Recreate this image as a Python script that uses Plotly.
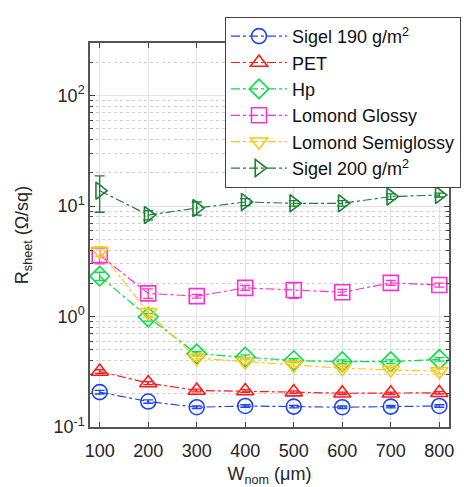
import plotly.graph_objects as go

w_nom = [100, 200, 300, 400, 500, 600, 700, 800]

names = ["Sigel 190 g/m<sup>2</sup>", "PET", "Hp", "Lomond Glossy",
         "Lomond Semiglossy", "Sigel 200 g/m<sup>2</sup>"]

sigel190 = [0.207, 0.170, 0.151, 0.155, 0.153, 0.151, 0.153, 0.155]
sigel190_err = [0.008, 0.006, 0.004, 0.004, 0.004, 0.004, 0.004, 0.004]
pet = [0.318, 0.250, 0.214, 0.212, 0.207, 0.202, 0.202, 0.204]
pet_err = [0.012, 0.008, 0.006, 0.006, 0.005, 0.005, 0.005, 0.005]
hp = [2.32, 0.99, 0.46, 0.43, 0.40, 0.39, 0.39, 0.41]
hp_err = [0.2, 0.08, 0.02, 0.02, 0.015, 0.015, 0.015, 0.015]
lomond_glossy = [3.6, 1.62, 1.53, 1.82, 1.74, 1.66, 2.02, 1.93]
lomond_glossy_err = [0.6, 0.16, 0.06, 0.09, 0.28, 0.1, 0.1, 0.08]
lomond_semi = [3.9, 1.09, 0.42, 0.39, 0.365, 0.34, 0.33, 0.32]
lomond_semi_err = [0.4, 0.1, 0.02, 0.02, 0.015, 0.015, 0.015, 0.015]
sigel200 = [13.8, 8.3, 9.6, 10.9, 10.6, 10.6, 12.2, 12.6]
sigel200_err = [5.0, 0.8, 1.3, 0.8, 0.6, 0.6, 0.7, 0.5]

series = [sigel190, pet, hp, lomond_glossy, lomond_semi, sigel200]
errors = [sigel190_err, pet_err, hp_err, lomond_glossy_err, lomond_semi_err, sigel200_err]
colors = ["#1f45ee", "#ff1a1a", "#00e040", "#ff33cc", "#ffc61a", "#1a8033"]
symbols = ["circle-open", "triangle-up-open", "diamond-open", "square-open",
           "triangle-down-open", "triangle-right-open"]

y_tickvals = [0.1, 1, 10, 100]
y_ticktext = ["10<sup>-1</sup>", "10<sup>0</sup>", "10<sup>1</sup>", "10<sup>2</sup>"]
minor_vals = [m * 10 ** e for e in range(-1, 3) for m in range(2, 10)]

fig = go.Figure()
for i, (name, ys, err, c, s) in enumerate(zip(names, series, errors, colors, symbols)):
    fig.add_trace(go.Scatter(
        x=w_nom, y=ys, name=name, mode="lines+markers",
        legendgroup=f"g{i}",
        line=dict(color=c, width=1.2, dash="dashdot"),
        marker=dict(symbol=s, size=15, color=c, line=dict(color=c, width=1.6)),
        error_y=dict(type="data", array=err, visible=True, color=c,
                     thickness=1.3, width=5),
    ))

font_family = "Liberation Sans, Arial, sans-serif"
fig.update_layout(
    width=464, height=487,
    margin=dict(l=90, r=15, t=43, b=60, autoexpand=False),
    paper_bgcolor="white", plot_bgcolor="white",
    font=dict(family=font_family, size=18, color="#262626"),
    showlegend=True,
    legend=dict(x=0.376, y=1.068, xanchor="left", yanchor="top",
                bgcolor="white", bordercolor="#444", borderwidth=1,
                font=dict(size=18, color="#111"), tracegroupgap=0,
                itemwidth=56),
    xaxis=dict(
        range=[80, 820], tickvals=w_nom,
        ticks="inside", ticklen=5, tickcolor="#444",
        showline=True, linecolor="#555", linewidth=1.5, mirror="ticks",
        showgrid=True, gridcolor="#e3e3e3", gridwidth=1,
        zeroline=False, ticklabelstandoff=7,
        title=dict(text="W<sub>nom</sub> (μm)", standoff=12,
                   font=dict(size=18)),
        tickfont=dict(size=18),
    ),
    yaxis=dict(
        type="log", range=[-1, 2.477],
        tickvals=y_tickvals, ticktext=y_ticktext,
        ticks="inside", ticklen=5, tickcolor="#444",
        showline=True, linecolor="#555", linewidth=1.5, mirror="ticks",
        showgrid=True, gridcolor="#e3e3e3", gridwidth=1,
        zeroline=False,
        minor=dict(tickvals=minor_vals, ticks="inside", ticklen=3,
                   tickcolor="#444", showgrid=True, gridcolor="#cfcfcf",
                   griddash="dot", gridwidth=1),
        title=dict(text="R<sub>sheet</sub> (Ω/sq)", standoff=20,
                   font=dict(size=18)),
        tickfont=dict(size=18),
    ),
)

fig.write_html("out.html",
               config={"displayModeBar": False},
               post_script="document.body.style.margin='0';document.body.style.overflow='hidden';")
